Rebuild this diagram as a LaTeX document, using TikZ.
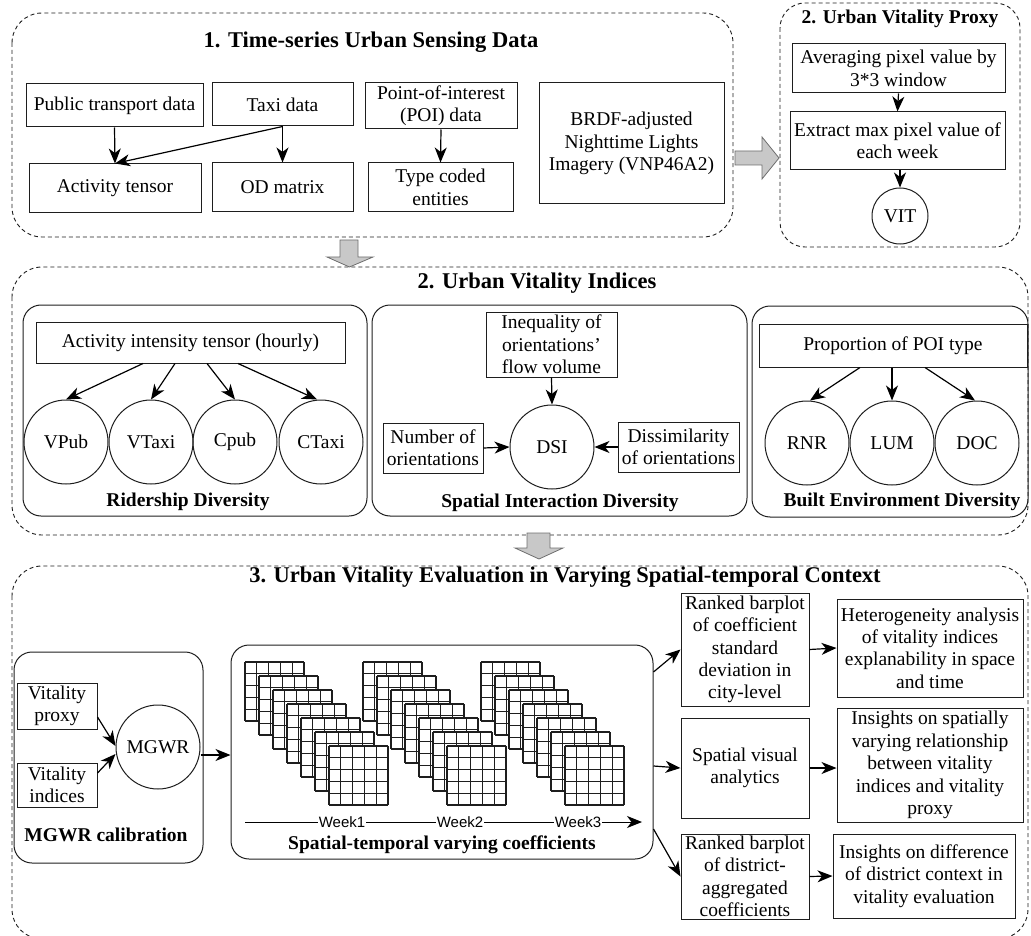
\documentclass[tikz,border=0pt]{standalone}
\usepackage{fontspec}
\setmainfont{Liberation Serif}
\newfontfamily\wkfont{Liberation Sans}
\usetikzlibrary{arrows.meta}
\definecolor{lc}{RGB}{30,30,30}
\definecolor{fillg}{RGB}{200,200,200}
\definecolor{edgeg}{RGB}{110,110,110}

\begin{document}
\begin{tikzpicture}[x=1pt,y=-1pt,
  every node/.style={font=\fontsize{19.5}{22.4}\selectfont, inner sep=0pt, align=center, text=black},
  box/.style={draw=lc, line width=1pt, rectangle},
  circ/.style={draw=lc, line width=1pt, circle, minimum size=84pt},
  grp/.style={draw=lc, line width=1pt, rectangle, rounded corners=18pt},
  sect/.style={draw=lc, line width=0.9pt, dash pattern=on 4pt off 3pt, rounded corners=30pt},
  headtip/.style={-{Stealth[length=15pt,width=12pt,inset=4.5pt]}},
  arr/.style={draw=black, line width=1.2pt, headtip},
  ttl/.style={font=\fontsize{22.5}{26}\selectfont\bfseries},
  sub/.style={font=\fontsize{19.5}{22}\selectfont\bfseries},
  big/.style={fill=fillg, draw=edgeg, line width=0.8pt},
  gridln/.style={draw=lc, line width=1.1pt},
  wk/.style={font=\wkfont\fontsize{15}{17}\selectfont, fill=white, inner xsep=1pt},
]
\useasboundingbox (0,0) rectangle (1031,936);

% ---------- section frames ----------
\draw[sect] (12,13) rectangle (733,237);
\draw[sect, rounded corners=25pt] (780,3) rectangle (1020,247);
\draw[sect] (12,267) rectangle (1028,535);
\draw[sect] (12,566) rectangle (1028,939);

% ---------- hollow block arrows between sections ----------
\draw[big] (735,151) -- (762,151) -- (762,137) -- (779,158) -- (762,179) -- (762,165) -- (735,165) -- cycle;
\draw[big] (340,240) -- (358,240) -- (358,257) -- (373,257) -- (349.5,267) -- (327,257) -- (340,257) -- cycle;
\draw[big] (527,533) -- (550,533) -- (550,548) -- (563,548) -- (539,559) -- (515,548) -- (527,548) -- cycle;

% ---------- titles ----------
\node[ttl] (t1) at (371,42) {1. Time-series Urban Sensing Data};
\node[sub] (t1b) at (900,19) {2. Urban Vitality Proxy};
\node[ttl] (t2) at (537,283) {2. Urban Vitality Indices};
\node[ttl] (t3) at (565,577) {3. Urban Vitality Evaluation in Varying Spatial-temporal Context};

% ---------- 1. sensing data ----------
\node[box, minimum width=177pt, minimum height=43pt] (pub) at (114.5,105.5) {Public transport data};
\node[box, minimum width=141pt, minimum height=43pt] (taxi) at (282.5,104.5) {Taxi data};
\node[box, minimum width=152pt, minimum height=46pt] (poi) at (441,106) {Point-of-interest\\(POI) data};
\node[box, minimum width=172pt, minimum height=49pt] (act) at (115,188.5) {Activity tensor};
\node[box, minimum width=141pt, minimum height=49pt] (od) at (282.5,187.5) {OD matrix};
\node[box, minimum width=145pt, minimum height=49pt] (type) at (440.5,187.5) {Type coded\\entities};
\node[box, minimum width=185pt, minimum height=121pt] (brdf) at (631.5,143.5) {BRDF-adjusted\\Nighttime Lights\\Imagery (VNP46A2)};

\draw[arr] (pub.south) -- (act.north);
\draw[arr] (taxi.south) -- (act.north);
\draw[arr] (taxi.south) -- (od.north);
\draw[arr] (poi.south) -- (type.north);

% ---------- 2. vitality proxy ----------
\node[box, minimum width=213pt, minimum height=49pt] (avg) at (898.5,68.5) {Averaging pixel value by\\3*3 window};
\node[box, minimum width=215pt, minimum height=58pt] (ext) at (897.5,141) {Extract max pixel value of\\each week};
\node[circ, minimum size=56pt] (vit) at (900,216) {VIT};
\draw[arr] (avg.south) -- (ext.north);
\draw[arr] (vit.north |- ext.south) -- (vit.north);

% ---------- 2. vitality indices ----------
\node[grp, minimum width=344pt, minimum height=211pt] (gRid) at (195,410.5) {};
\node[grp, minimum width=375pt, minimum height=211pt] (gSpa) at (559.5,410.5) {};
\node[grp, minimum width=276pt, minimum height=211pt] (gBui) at (890,411.5) {};

\node[box, minimum width=309pt, minimum height=41pt] (tensor) at (190.5,342.5) {Activity intensity tensor (hourly)};
\node[circ] (vpub) at (66,442) {VPub};
\node[circ] (vtaxi) at (151,442) {VTaxi};
\node[circ] (cpub) at (235,442) {Cpub};
\node[circ] (ctaxi) at (321,442) {CTaxi};
\draw[arr] ([xshift=-47.5pt]tensor.south) -- (vpub.north);
\draw[arr] ([xshift=-15.5pt]tensor.south) -- (vtaxi.north);
\draw[arr] ([xshift=16.5pt]tensor.south) -- (cpub.north);
\draw[arr] ([xshift=47.5pt]tensor.south) -- ([xshift=-4pt]ctaxi.north);
\node[sub] (lRid) at (188,502) {Ridership Diversity};

\node[box, minimum width=131pt, minimum height=65pt] (ineq) at (551.5,344.5) {Inequality of\\orientations{\char"0027}\\flow volume};
\node[circ] (dsi) at (552,447) {DSI};
\node[box, minimum width=100pt, minimum height=50pt] (num) at (433,448) {Number of\\orientations};
\node[box, minimum width=121pt, minimum height=50pt] (dis) at (678.5,447) {Dissimilarity\\of orientations};
\draw[arr] (ineq.south) -- (dsi.north);
\draw[arr] (num.east) -- (dsi.west);
\draw[arr] (dis.west) -- (dsi.east);
\node[sub] (lSpa) at (560,503) {Spatial Interaction Diversity};

\node[box, minimum width=268pt, minimum height=43pt] (prop) at (893,345.5) {Proportion of POI type};
\node[circ] (rnr) at (807,443) {RNR};
\node[circ] (lum) at (892,443) {LUM};
\node[circ] (doc) at (977,443) {DOC};
\draw[arr] ([xshift=-33pt]prop.south) -- ([xshift=3pt]rnr.north);
\draw[arr] (lum.north |- prop.south) -- (lum.north);
\draw[arr] ([xshift=32pt]prop.south) -- ([xshift=-2pt]doc.north);
\node[sub] (lBui) at (902,502) {Built Environment Diversity};

% ---------- 3. evaluation ----------
\node[grp, minimum width=189pt, minimum height=211pt] (gMg) at (108.5,757.5) {};
\node[grp, minimum width=422pt, minimum height=214pt] (st) at (442,752) {};

\node[box, minimum width=80pt, minimum height=46pt] (vprox) at (57,706) {Vitality\\proxy};
\node[box, minimum width=80pt, minimum height=44pt] (vind) at (57,785) {Vitality\\indices};
\node[circ] (mgwr) at (158,747) {MGWR};
\draw[arr] ([yshift=-11pt]vprox.east) -- ([yshift=1pt]mgwr.west);
\draw[arr] ([yshift=12pt]vind.east) -- ([yshift=-7pt]mgwr.west);
\node[sub] (lMg) at (106,835) {MGWR calibration};

\coordinate (mo) at ([yshift=-8pt]mgwr.east);
\draw[arr] (mo) -- (mo -| st.west);

% stacked 5x5 coefficient grids, one stack per week
\foreach \w in {0,1,2}{
  \foreach \k in {0,...,6}{
    \pgfmathsetmacro\gx{245+118*\w+14*\k}
    \pgfmathsetmacro\gy{662+14*\k}
    \fill[white] (\gx,\gy) rectangle ++(59,59);
    \foreach \i in {0,...,5}{
      \draw[gridln] ({\gx+11.8*\i},\gy) -- ++(0,59);
      \draw[gridln] (\gx,{\gy+11.8*\i}) -- ++(59,0);
    }
  }
}

\coordinate (ws) at (245,822);
\coordinate (we) at (642,822);
\draw[line width=1pt, headtip] (ws) -- (we);
\node[wk] (w1) at (342,822) {Week1};
\node[wk] (w2) at (460,822) {Week2};
\node[wk] (w3) at (578,822) {Week3};
\node[sub] (lSt) at (442,845) {Spatial-temporal varying coefficients};

\node[box, minimum width=128pt, minimum height=113pt] (rb1) at (745,649.5) {Ranked barplot\\of coefficient\\standard\\deviation in\\city-level};
\node[box, minimum width=186pt, minimum height=98pt] (het) at (930,648) {Heterogeneity analysis\\of vitality indices\\explanability in space\\and time};
\node[box, minimum width=128pt, minimum height=100pt] (sva) at (745,768) {Spatial visual\\analytics};
\node[box, minimum width=186pt, minimum height=114pt] (ins1) at (930,765) {Insights on spatially\\varying relationship\\between vitality\\indices and vitality\\proxy};
\node[box, minimum width=128pt, minimum height=85pt] (rb2) at (745,876.5) {Ranked barplot\\of district-\\aggregated\\coefficients};
\node[box, minimum width=182pt, minimum height=84pt] (ins2) at (924,876) {Insights on difference\\of district context in\\vitality evaluation};

\draw[arr] ([yshift=80pt]st.east) -- (rb1.west);
\draw[arr] ([yshift=-14pt]st.east) -- (sva.west);
\draw[arr] ([yshift=-77pt]st.east) -- (rb2.west);
\draw[arr] (rb1.east) -- (het.west);
\draw[arr] (sva.east) -- (sva.east -| ins1.west);
\draw[arr] (rb2.east) -- (ins2.west);
\end{tikzpicture}
\end{document}
